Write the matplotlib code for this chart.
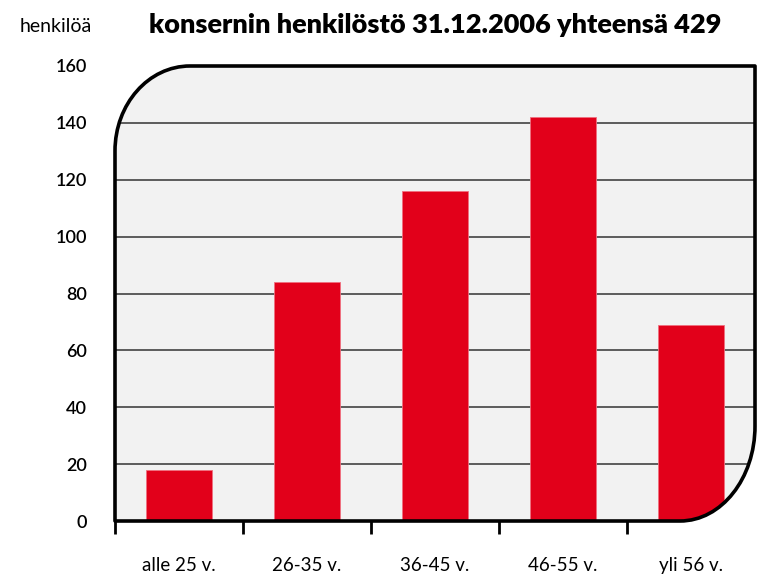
import matplotlib.pyplot as plt
from matplotlib.path import Path
from matplotlib.patches import PathPatch

categories = ["alle 25 v.", "26-35 v.", "36-45 v.", "46-55 v.", "yli 56 v."]
values = [18, 84, 116, 142, 69]
yticks = [0, 20, 40, 60, 80, 100, 120, 140, 160]

plt.rcParams['font.family'] = ['Lato', 'DejaVu Sans']

fig = plt.figure(figsize=(7.6, 5.8), dpi=100)
ax = fig.add_axes([115 / 760, 59 / 580, 640 / 760, 455 / 580])
ax.set_facecolor("none")
ax.set_xlim(-0.5, len(categories) - 0.5)
ax.set_ylim(0, 160)

# rounded frame: top-left and bottom-right corners rounded
rx1, ry1 = 75 / 640, 85 / 455
rx2, ry2 = 75 / 640, 95 / 455
k = 0.5523
verts = [
    (0, 0),
    (1 - rx2, 0),
    (1 - rx2 + k * rx2, 0), (1, ry2 - k * ry2), (1, ry2),
    (1, 1),
    (rx1, 1),
    (rx1 - k * rx1, 1), (0, 1 - ry1 + k * ry1), (0, 1 - ry1),
    (0, 0),
]
codes = [Path.MOVETO, Path.LINETO,
         Path.CURVE4, Path.CURVE4, Path.CURVE4,
         Path.LINETO, Path.LINETO,
         Path.CURVE4, Path.CURVE4, Path.CURVE4,
         Path.CLOSEPOLY]
frame = PathPatch(Path(verts, codes), transform=ax.transAxes,
                  facecolor="#f2f2f2", edgecolor="none", zorder=0)
ax.add_patch(frame)
border = PathPatch(Path(verts, codes), transform=ax.transAxes,
                   facecolor="none", edgecolor="black", lw=2.6, zorder=5,
                   clip_on=False, joinstyle="round")
ax.add_patch(border)

for y in yticks[1:-1]:
    gl = ax.axhline(y, color="#333333", lw=1.1, zorder=1)
    gl.set_clip_path(frame)

bars = ax.bar(range(len(categories)), values, width=0.52,
              color="#e2001a", edgecolor="#f07080", lw=0.6, zorder=2)
for b in bars:
    b.set_clip_path(frame)

for s in ax.spines.values():
    s.set_visible(False)

ax.set_yticks(yticks)
ax.set_yticklabels([str(v) for v in yticks], fontsize=13, fontweight="semibold")
ax.tick_params(axis="y", length=0, pad=20)

ax.set_xticks(range(len(categories)))
ax.set_xticklabels(categories, fontsize=13.5)
ax.set_xticks([i - 0.5 for i in range(len(categories))], minor=True)
ax.tick_params(axis="x", which="major", length=0, pad=26)
ax.tick_params(axis="x", which="minor", length=9, width=2, direction="out")

fig.text(20 / 760, 1 - 27 / 580, "henkilöä", fontsize=14, va="center", ha="left")
fig.text(435 / 760, 1 - 25 / 580, "konsernin henkilöstö 31.12.2006 yhteensä 429",
         fontsize=19.5, fontweight="heavy", va="center", ha="center")

fig.savefig("out.png", dpi=100)
plt.close(fig)
